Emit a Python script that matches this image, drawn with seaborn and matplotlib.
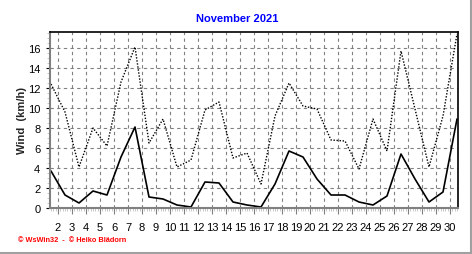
import matplotlib
matplotlib.use("Agg")
import matplotlib.pyplot as plt
import seaborn as sns
import numpy as np
import pandas as pd
from matplotlib.lines import Line2D
from matplotlib.ticker import MultipleLocator, FixedLocator

days = list(range(1, 31))
wind_avg = [3.7, 1.3, 0.5, 1.7, 1.3, 5.1, 8.1, 1.1, 0.9, 0.3,
            0.1, 2.6, 2.5, 0.6, 0.3, 0.1, 2.4, 5.7, 5.1, 2.9,
            1.3, 1.3, 0.6, 0.3, 1.2, 5.4, 2.9, 0.6, 1.6, 8.9]
wind_gust = [12.4, 9.6, 4.1, 8.0, 6.2, 12.6, 16.1, 6.5, 8.9, 4.1,
             4.8, 9.8, 10.6, 5.0, 5.5, 2.4, 9.2, 12.5, 10.2, 9.9,
             6.8, 6.7, 3.9, 8.9, 5.7, 15.7, 9.9, 4.1, 9.2, 17.4]
tick_days = list(range(2, 31))
tick_labels = [str(d) for d in tick_days]
y_ticks = [0, 2, 4, 6, 8, 10, 12, 14, 16]

sns.set_theme(style="white")
plt.rcParams['font.family'] = ['Liberation Sans', 'DejaVu Sans']

df = pd.DataFrame({"day": days, "avg": wind_avg, "gust": wind_gust})

fig = plt.figure(figsize=(4.72, 2.55), dpi=100)
fig.patch.set_facecolor("white")
ax = fig.add_axes([50/472, 1-209/255, 408/472, 176/255])
ax.set_facecolor("white")

sns.lineplot(data=df, x="day", y="gust", ax=ax, color="black", linewidth=1.0,
             linestyle=(0, (1, 1.2)))
sns.lineplot(data=df, x="day", y="avg", ax=ax, color="black", linewidth=1.2)

ax.set_xlim(1 - 1/14, 30 + 1/14)
ax.set_ylim(0, 17.6)

ax.xaxis.set_major_locator(FixedLocator([d - 0.5 for d in tick_days]))
ax.set_xticklabels(tick_labels)
ax.xaxis.set_minor_locator(MultipleLocator(1/6))
ax.yaxis.set_major_locator(FixedLocator(y_ticks))
ax.set_yticklabels([str(v) for v in y_ticks])
ax.yaxis.set_minor_locator(MultipleLocator(0.5))

ax.tick_params(axis="both", which="major", labelsize=8, colors="black",
               length=3, width=0.8, pad=4, direction="out")
ax.tick_params(axis="x", which="major", length=4, pad=6, color="#808080")
ax.tick_params(axis="both", which="minor", length=2, width=0.4, color="#a0a0a0")
ax.tick_params(bottom=True, left=True, which="both")

ax.grid(True, which="major", color="#808080", linestyle=(0, (3, 3)), linewidth=0.8)
ax.set_axisbelow(True)

for side in ["top", "right"]:
    ax.spines[side].set_color("black")
    ax.spines[side].set_linewidth(1.2)
for side in ["left", "bottom"]:
    ax.spines[side].set_color("#808080")
    ax.spines[side].set_linewidth(1.5)

ax.set_xlabel("")
ax.set_ylabel("Wind  (km/h)", fontsize=8, fontweight="bold")
ax.yaxis.set_label_coords(-23/408, 0.5)

fig.text(237/472, 1-19/255, "November 2021", color="#0000FF", fontsize=8,
         fontweight="bold", ha="center", va="center")
fig.text(18/472, 1-241/255, "\u00a9 WsWin32  -  \u00a9 Heiko Bl\u00e4dorn", color="#FF0000",
         fontsize=5.3, fontweight="bold", ha="left", va="center")

fig.add_artist(Line2D([0, 1], [1.5/255, 1.5/255], color="#a0a0a0", linewidth=1.5,
                      transform=fig.transFigure))
fig.add_artist(Line2D([1-1.5/472, 1-1.5/472], [0, 1], color="#a0a0a0", linewidth=1.5,
                      transform=fig.transFigure))

fig.savefig("out.png", dpi=100, facecolor="white")
